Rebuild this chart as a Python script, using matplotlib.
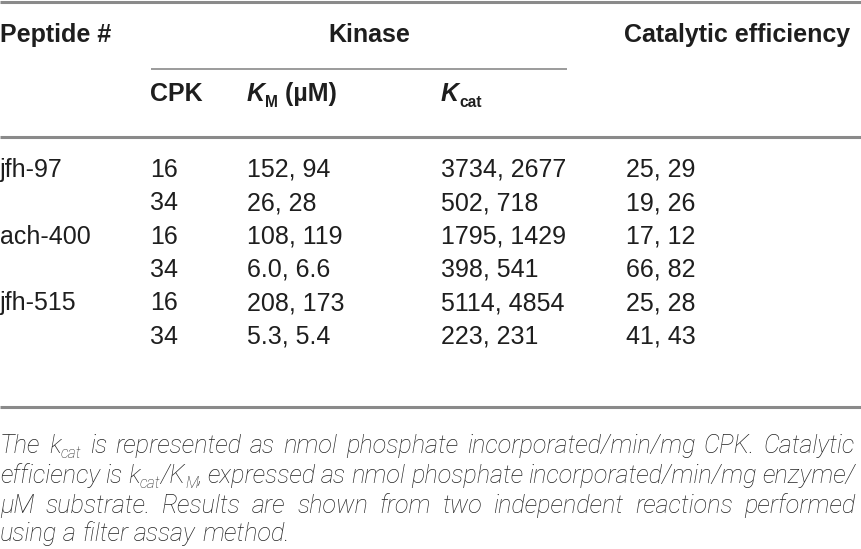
import matplotlib
matplotlib.use('Agg')
import matplotlib.pyplot as plt
from matplotlib import font_manager

# table contents
peptides = ['jfh-97', '', 'ach-400', '', 'jfh-515', '']
cpk = ['16', '34', '16', '34', '16', '34']
km = ['152, 94', '26, 28', '108, 119', '6.0, 6.6', '208, 173', '5.3, 5.4']
kcat = ['3734, 2677', '502, 718', '1795, 1429', '398, 541', '5114, 4854', '223, 231']
efficiency = ['25, 29', '19, 26', '17, 12', '66, 82', '25, 28', '41, 43']

W, H = 861, 549
fig = plt.figure(figsize=(W / 100, H / 100), dpi=100)
ax = fig.add_axes([0, 0, 1, 1])
ax.set_xlim(0, W)
ax.set_ylim(H, 0)
ax.axis('off')
r = fig.canvas.get_renderer()

FONT = 'Liberation Sans'
names = {f.name for f in font_manager.fontManager.ttflist}
CAPFONT = 'Roboto' if 'Roboto' in names else FONT
TS = 18      # table font size
GREY = '#8a8a8a'
INK = '#1e1e1e'

def width(t):
    return t.get_window_extent(renderer=r).width

def runs(x, y, parts):
    # parts: (text, props, dy); drawn one after another
    out = []
    for s, kw, dy in parts:
        t = ax.text(x, y + dy, s, ha='left', va='baseline', **kw)
        x += width(t)
        out.append(t)
    return out, x

def space_w(kw):
    a = ax.text(0, 0, 'a a', **kw)
    b = ax.text(0, 0, 'aa', **kw)
    w = width(a) - width(b)
    a.remove(); b.remove()
    return w

# rules
ax.plot([0, W], [1.5, 1.5], color=GREY, lw=2.2, solid_capstyle='butt')
ax.plot([151, 567], [69, 69], color=GREY, lw=1.2, solid_capstyle='butt')
ax.plot([0, W], [137, 137], color=GREY, lw=2.2, solid_capstyle='butt')
ax.plot([0, W], [407, 407], color=GREY, lw=2.2, solid_capstyle='butt')

# header
hb = dict(family=FONT, fontsize=TS, fontweight='bold', color=INK)
ax.text(0, 42, 'Peptide #', ha='left', va='baseline', **hb)
ax.text(369, 42, 'Kinase', ha='center', va='baseline', **hb)
ax.text(850, 42, 'Catalytic efficiency', ha='right', va='baseline', **hb)

ax.text(150, 101, 'CPK', ha='left', va='baseline', **hb)
hbi = dict(hb, fontstyle='italic')
hsub = dict(hb, fontsize=TS * 0.62)
runs(247, 101, [('K', hbi, 0), ('M', hsub, 6), (' (µM)', hb, 0)])
runs(441, 101, [('K', hbi, 0), ('cat', hsub, 6)])

# body
cols = [0, 150, 247, 441, 626]
body = dict(family=FONT, fontsize=TS, color=INK)
for i in range(len(cpk)):
    y = 177 + i * 33.3
    for x, vals in zip(cols, [peptides, cpk, km, kcat, efficiency]):
        ax.text(x, y, vals[i], ha='left', va='baseline', **body)

# caption, justified lines
def build_lines(cs):
    ci = dict(family=CAPFONT, fontsize=cs, fontstyle='italic',
              fontweight='light', color='#222222')
    csub = dict(ci, fontsize=cs * 0.62)

    def words(txt):
        return [[(w, ci, 0)] for w in txt.split()]

    lines = [
        words('The') + [[('k', ci, 0), ('cat', csub, 5)]]
        + words('is represented as nmol phosphate incorporated/min/mg CPK. Catalytic'),
        words('efficiency is')
        + [[('k', ci, 0), ('cat', csub, 5), ('/K', ci, 0), ('M', csub, 5), (',', ci, 0)]]
        + words('expressed as nmol phosphate incorporated/min/mg enzyme/'),
        words('µM substrate. Results are shown from two independent reactions performed'),
        words('using a filter assay method.'),
    ]
    return lines, ci

def draw_caption(cs, baselines, right=855, measure_only=False):
    lines, ci = build_lines(cs)
    sp = space_w(ci)
    naturals = []
    for k, (ln, yb) in enumerate(zip(lines, baselines)):
        placed = [runs(0, yb, wd) for wd in ln]
        ws = [end for _, end in placed]
        naturals.append(sum(ws) + sp * (len(ws) - 1))
        if measure_only:
            for ts, _ in placed:
                for t in ts:
                    t.remove()
            continue
        gap = (right - sum(ws)) / (len(ws) - 1) if k < len(lines) - 1 else sp
        x = 0
        for ts, end in placed:
            for t in ts:
                t.set_x(t.get_position()[0] + x)
            x += end + gap
    return naturals

baselines = [453, 483, 513, 541]
nat = draw_caption(10, baselines, measure_only=True)
cs = 10 * 858 / max(nat[:3])
draw_caption(cs, baselines)

fig.savefig('out.png', dpi=100)
